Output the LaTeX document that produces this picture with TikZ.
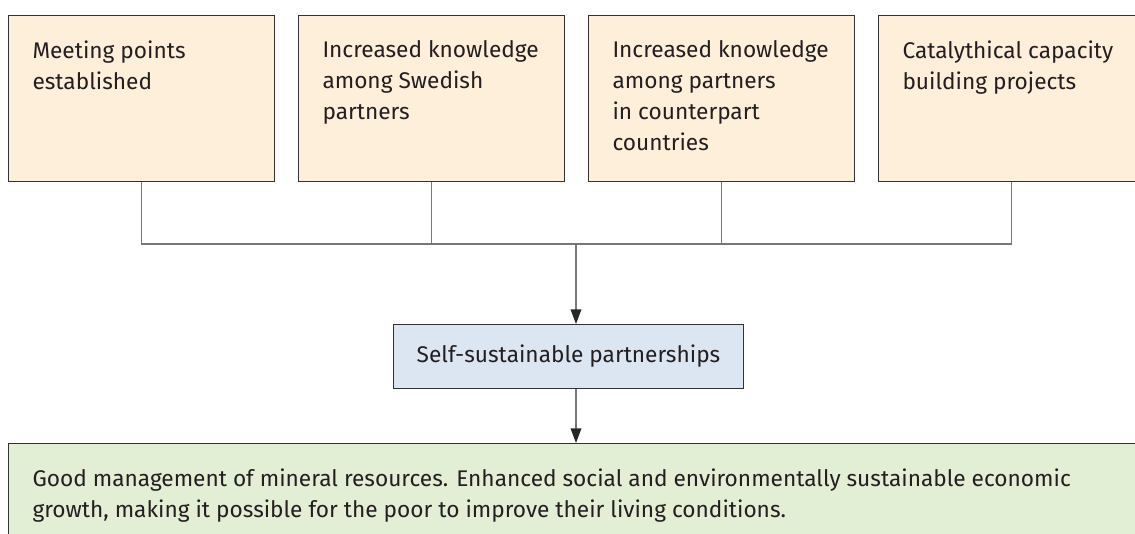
\documentclass[tikz,border=0pt]{standalone}
\usepackage{fontspec}
\setmainfont{Fira Sans}
\usetikzlibrary{arrows.meta}

\definecolor{tanfill}{RGB}{253,239,218}
\definecolor{bluefill}{RGB}{220,230,243}
\definecolor{greenfill}{RGB}{226,239,212}
\definecolor{boxline}{RGB}{51,51,51}
\definecolor{linkgray}{RGB}{120,120,120}
\definecolor{textdark}{RGB}{35,31,32}

\tikzset{every picture/.style={line width=0.75pt}}
\tikzset{
  outbox/.style={draw=boxline, fill=tanfill, anchor=north west, inner sep=0pt,
    minimum width=199.5pt, minimum height=124.5pt},
  selfbox/.style={draw=boxline, fill=bluefill, anchor=north west, inner sep=0pt,
    minimum width=262.5pt, minimum height=48pt, text=textdark,
    font=\fontsize{17}{23.25}\selectfont},
  goalbox/.style={draw=boxline, fill=greenfill, anchor=north west, inner sep=0pt,
    minimum width=860pt, minimum height=82.5pt},
  boxtext/.style={anchor=north west, inner sep=0pt, align=left, text=textdark,
    font=\fontsize{17}{23.25}\selectfont},
  link/.style={draw=linkgray, line width=1.1pt},
  arrowlink/.style={link, -{Triangle[width=8pt,length=11pt,color=black!85]}}
}

\begin{document}
\begin{tikzpicture}[x=0.75pt,y=0.75pt,yscale=-1,xscale=1]
\useasboundingbox (0,0) rectangle (1135,534);
\clip (0,0) rectangle (1135,534);

%Shape: Rectangle [id:outputs]
\node[outbox] (meet) at (8,15) {};
\node[outbox] (swed) at (298,15) {};
\node[outbox] (partn) at (588,15) {};
\node[outbox] (catal) at (878,15) {};

%Shape: Rectangle [id:outcome]
\node[selfbox] (self) at (393,324) {Self-sustainable partnerships};

%Shape: Rectangle [id:impact]
\node[goalbox] (goal) at (8,443) {};

% Text Node
\node[boxtext] (meettxt) at (32,40) {Meeting points\\established};
% Text Node
\node[boxtext] (swedtxt) at (322,40) {Increased knowledge\\among Swedish\\partners};
% Text Node
\node[boxtext] (partntxt) at (612,40) {Increased knowledge\\among partners\\in counterpart\\countries};
% Text Node
\node[boxtext] (cataltxt) at (902,40) {Catalythical capacity\\building projects};
% Text Node
\node[boxtext] (goaltxt) at (32,468) {Good management of mineral resources. Enhanced social and environmentally sustainable economic\\growth, making it possible for the poor to improve their living conditions.};

%Straight Lines [id:joinlines]
\coordinate (join) at (576,244);
\draw[link] (meet.south) |- (join) -| (catal.south);
\draw[link] (swed.south) -- (swed.south |- join);
\draw[link] (partn.south) -- (partn.south |- join);

%Straight Lines [id:arrows]
\draw[arrowlink] (join) -- (join |- self.north);
\draw[arrowlink] (self.south -| join) -- (join |- goal.north);

\end{tikzpicture}
\end{document}
